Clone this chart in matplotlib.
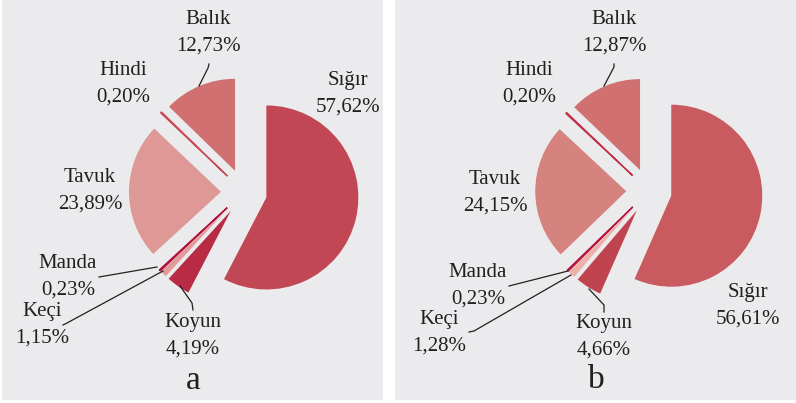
import matplotlib.pyplot as plt
from matplotlib.patches import Rectangle

# clockwise from 12 o'clock
labels = ['Sığır', 'Koyun', 'Keçi', 'Manda', 'Tavuk', 'Hindi', 'Balık']
values_a = [57.62, 4.19, 1.15, 0.23, 23.89, 0.20, 12.73]
values_b = [56.61, 4.66, 1.28, 0.23, 24.15, 0.20, 12.87]
colors_a = ['#c04753', '#b92a45', '#e49a98', '#b0103a', '#de9895', '#c84a55', '#d07070']
colors_b = ['#c95b60', '#c04450', '#efb0aa', '#b5103a', '#d6827f', '#c0304a', '#d07070']

W, H = 796, 403
fig = plt.figure(figsize=(W / 100, H / 100), dpi=100)
plt.rcParams['font.family'] = ['Liberation Serif', 'DejaVu Serif']

# background panels (pixel coords)
bg = fig.add_axes([0, 0, 1, 1], zorder=0)
bg.set_xlim(0, W)
bg.set_ylim(H, 0)
bg.axis('off')
bg.add_patch(Rectangle((2, 0), 381, 400, color='#ebebed', lw=0))
bg.add_patch(Rectangle((395, 0), 401, 400, color='#ebebed', lw=0))


def draw_pie(values, colors, cx, cy, r):
    lim = 1.6
    size = 2 * lim * r
    ax = fig.add_axes([(cx - size / 2) / W, (H - cy - size / 2) / H, size / W, size / H], zorder=1)
    wedges, _ = ax.pie(values, colors=colors, startangle=90, counterclock=False,
                       explode=[0.25] * len(values), wedgeprops=dict(linewidth=0))
    # very thin slices get a stroke so they show up as in the print
    for w, v, c in zip(wedges, values, colors):
        if v < 0.5:
            w.set_edgecolor(c)
            w.set_linewidth(1.0)
    ax.set_xlim(-lim, lim)
    ax.set_ylim(-lim, lim)
    ax.set_aspect('equal')
    ax.axis('off')


draw_pie(values_a, colors_a, 244, 192, 92)
draw_pie(values_b, colors_b, 649, 191, 91)

top = fig.add_axes([0, 0, 1, 1], zorder=2)
top.set_xlim(0, W)
top.set_ylim(H, 0)
top.axis('off')
top.patch.set_alpha(0)


def pct(v):
    return ('%.2f' % v).replace('.', ',') + '%'


# label centres for each panel, in label order
pos_a = [(348, 94), (193, 336), (42, 325), (68, 277), (90, 191), (123, 84), (208, 33)]
pos_b = [(748, 306), (604, 337), (439, 333), (478, 286), (495, 193), (529, 84), (614, 33)]

lines_a = [
    [(199, 86), (208, 68), (209, 64)],
    [(157, 267), (99, 277)],
    [(163, 271), (67, 323), (63, 325)],
    [(180, 286), (192, 303), (193, 310)],
]
lines_b = [
    [(604, 86), (614, 67), (614, 64)],
    [(568, 271), (509, 286)],
    [(571, 275), (474, 331), (469, 332)],
    [(589, 289), (604, 305), (604, 312)],
]

for vals, pos, lines, tag, tagpos in [(values_a, pos_a, lines_a, 'a', (193, 381)),
                                      (values_b, pos_b, lines_b, 'b', (596, 380))]:
    for name, v, (x, y) in zip(labels, vals, pos):
        top.text(x, y, name + '\n' + pct(v), ha='center', va='center',
                 fontsize=15, linespacing=1.55, color='#231f20')
    for pts in lines:
        top.plot([p[0] for p in pts], [p[1] for p in pts], color='#231f20', lw=0.9)
    top.text(tagpos[0], tagpos[1], tag, ha='center', va='center', fontsize=24, color='#231f20')

fig.savefig('out.png', dpi=100, facecolor='white')
